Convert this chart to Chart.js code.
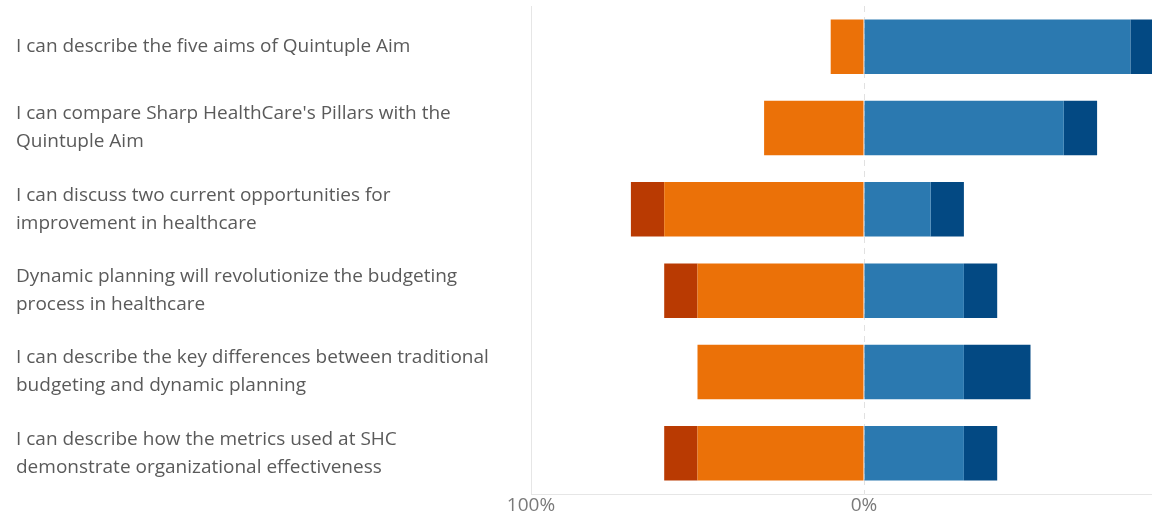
<!DOCTYPE html>
<html lang="en">
<head>
  <meta charset="UTF-8">
  <title>Learning objectives</title>
  <script src="https://cdn.jsdelivr.net/npm/chart.js"></script>
  <style>
    html, body { margin: 0; padding: 0; background: #fff; overflow: hidden; }
    canvas { display: block; }
  </style>
</head>
<body>
  <canvas id="likertChart" width="1200" height="513"></canvas>

  <script>
    // statements (y categories)
    const statements = [
      "I can describe the five aims of Quintuple Aim",
      ["I can compare Sharp HealthCare's Pillars with the", "Quintuple Aim"],
      ["I can discuss two current opportunities for", "improvement in healthcare"],
      ["Dynamic planning will revolutionize the budgeting", "process in healthcare"],
      ["I can describe the key differences between traditional", "budgeting and dynamic planning"],
      ["I can describe how the metrics used at SHC", "demonstrate organizational effectiveness"]
    ];

    // percentages of responses
    const disagree         = [10, 30, 60, 50, 50, 50];
    const stronglyDisagree = [0, 0, 10, 10, 0, 10];
    const agree            = [80, 60, 20, 30, 30, 30];
    const stronglyAgree    = [10, 10, 10, 10, 20, 10];

    const tickValues = [-100, 0, 100];

    // dashed line at 0%
    const zeroLine = {
      id: "zeroLine",
      beforeDatasetsDraw(chart) {
        const x = chart.scales.x.getPixelForValue(0);
        const area = chart.chartArea;
        const ctx = chart.ctx;
        ctx.save();
        ctx.strokeStyle = "#e1e1e1";
        ctx.lineWidth = 1;
        ctx.setLineDash([6, 5]);
        ctx.beginPath();
        ctx.moveTo(Math.round(x) + 0.5, area.top);
        ctx.lineTo(Math.round(x) + 0.5, area.bottom);
        ctx.stroke();
        ctx.restore();
      }
    };

    const neg = arr => arr.map(v => -v);

    const ctx = document.getElementById("likertChart").getContext("2d");
    new Chart(ctx, {
      type: "bar",
      data: {
        labels: statements,
        datasets: [
          { label: "Disagree", data: neg(disagree), backgroundColor: "#eb7108" },
          { label: "Strongly disagree", data: neg(stronglyDisagree), backgroundColor: "#b93a02" },
          { label: "Agree", data: agree, backgroundColor: "#2b79b0" },
          { label: "Strongly agree", data: stronglyAgree, backgroundColor: "#034983" }
        ].map(d => Object.assign(d, {
          borderWidth: 0,
          categoryPercentage: 1,
          barPercentage: 0.67
        }))
      },
      options: {
        indexAxis: "y",
        responsive: false,
        animation: false,
        layout: { padding: { left: 16, top: 6, right: 3, bottom: 0 } },
        plugins: {
          legend: { display: false },
          tooltip: { enabled: false }
        },
        scales: {
          x: {
            stacked: true,
            min: -100,
            max: 100,
            afterBuildTicks: scale => { scale.ticks = tickValues.map(v => ({ value: v })); },
            afterFit: scale => {
              scale.height = 19;
              scale.paddingLeft = 0;
              scale.paddingRight = 0;
            },
            grid: {
              drawTicks: false,
              color: c => (c.tick && c.tick.value === -100 ? "#e6e6e6" : "rgba(0,0,0,0)")
            },
            border: { display: true, color: "#e6e6e6" },
            ticks: {
              padding: 0,
              color: "#7a7a7a",
              font: { family: "'Open Sans', sans-serif", size: 19 },
              callback: v => Math.abs(v) + "%"
            }
          },
          y: {
            stacked: true,
            afterFit: scale => {
              scale.width = 515;
              scale.paddingTop = 0;
              scale.paddingBottom = 0;
            },
            grid: { display: false },
            border: { display: false },
            ticks: {
              crossAlign: "far",
              color: "#5a5a5a",
              font: { family: "'Open Sans', sans-serif", size: 19, lineHeight: 28 / 19 }
            }
          }
        }
      },
      plugins: [zeroLine]
    });
  </script>
</body>
</html>
